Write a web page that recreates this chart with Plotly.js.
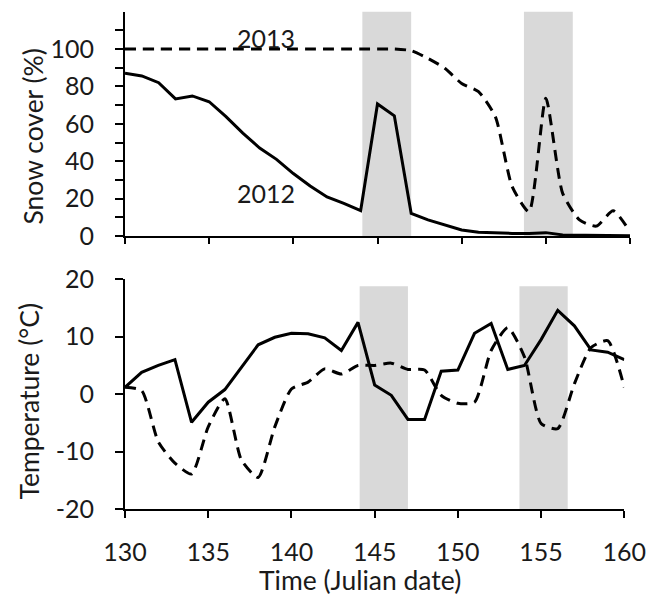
<!DOCTYPE html>
<html>
<head>
<meta charset="utf-8">
<script src="https://cdn.plot.ly/plotly-3.0.1.min.js"></script>
<style>html,body{margin:0;padding:0;background:#fff;}#chart{width:659px;height:596px;}</style>
</head>
<body>
<div id="chart"></div>
<script>
// Julian dates
const days = [130,131,132,133,134,135,136,137,138,139,140,141,142,143,144,145,146,147,148,149,150,151,152,153,154,155,156,157,158,159,160];
// Snow cover (%)
const snow2012 = [87,85.6,82,73.3,74.9,71.8,63.8,55,47,41,33.4,26.7,20.9,17.5,13.6,70.6,64.3,12.1,8.6,5.9,3.2,2,1.6,1.4,1.4,1.8,0.6,0.4,0.3,0.3,0.2];
const snow2013 = [100,100,100,100,100,100,100,100,100,100,100,100,100,100,100,100,100,99.1,95,89.7,81.6,77.2,63.8,26.4,13,73.6,22.8,8.6,5.3,13.5,2.3];
// Temperature (°C)
const temp2012 = [1.2,3.8,5.0,6.0,-4.9,-1.4,0.8,4.7,8.6,9.9,10.6,10.5,9.8,7.6,12.5,1.6,-0.2,-4.4,-4.4,4.0,4.2,10.6,12.3,4.3,5.0,9.5,14.6,11.9,7.7,7.3,6.0];
const temp2013 = [1.2,0.6,-8.3,-12.0,-13.9,-5.7,-0.8,-11.5,-14.5,-5.7,0.9,2.1,4.4,3.5,5.0,5.0,5.4,4.3,4.2,-0.2,-1.6,-1.4,7.6,11.6,6.5,-5.1,-6.0,1.8,8.1,9.3,1.2];
// Shaded periods
const shadeStart = [144.1,153.7];
const shadeEnd = [147,156.6];
// Tick labels
const snowTickVals = [0,10,20,30,40,50,60,70,80,90,100,110];
const snowTickText = ['0','','20','','40','','60','','80','','100',''];
const tempTickVals = [-20,-10,0,10,20];
const tempTickText = ['-20','-10','0','10','20'];
const xTickVals = [130,135,140,145,150,155,160];
// Titles
const snowTitle = 'Snow cover (%)';
const tempTitle = 'Temperature (°C)';
const timeTitle = 'Time (Julian date)';

const W = 659, H = 596;
const font = {family: 'Lato, "Open Sans", sans-serif', size: 25, color: '#1a1a1a'};
const titleFont = {family: 'Lato, "Open Sans", sans-serif', size: 26.5, color: '#1a1a1a'};
const solid = {color: '#000', width: 3};
const dashed = {color: '#000', width: 3, dash: '11px,7px', shape: 'spline', smoothing: 0.6};

const traces = [
  {x: days, y: snow2012, xaxis: 'x', yaxis: 'y', mode: 'lines', line: solid, hoverinfo: 'skip'},
  {x: days, y: snow2013, xaxis: 'x', yaxis: 'y', mode: 'lines', line: dashed, hoverinfo: 'skip'},
  {x: days, y: temp2012, xaxis: 'x2', yaxis: 'y2', mode: 'lines', line: solid, hoverinfo: 'skip'},
  {x: days, y: temp2013, xaxis: 'x2', yaxis: 'y2', mode: 'lines', line: dashed, hoverinfo: 'skip'}
];

const shapes = [];
for (let i = 0; i < shadeStart.length; i++) {
  shapes.push({type: 'rect', xref: 'x', yref: 'y', x0: shadeStart[i], x1: shadeEnd[i], y0: 0, y1: 120, fillcolor: '#d9d9d9', line: {width: 0}, layer: 'below'});
  shapes.push({type: 'rect', xref: 'x2', yref: 'y2', x0: shadeStart[i], x1: shadeEnd[i], y0: -20, y1: 18.8, fillcolor: '#d9d9d9', line: {width: 0}, layer: 'below'});
}

const axBase = {showgrid: false, zeroline: false, showline: true, linecolor: '#000', linewidth: 2, ticks: 'outside', tickcolor: '#000', tickwidth: 2, tickfont: font};

const layout = {
  width: W, height: H,
  margin: {l: 0, r: 0, t: 0, b: 0},
  paper_bgcolor: '#fff', plot_bgcolor: 'rgba(0,0,0,0)',
  showlegend: false,
  font: font,
  xaxis: Object.assign({}, axBase, {domain: [125/W, 630/W], range: [130,160], anchor: 'y', tickvals: xTickVals, showticklabels: false, ticklen: 6}),
  yaxis: Object.assign({}, axBase, {domain: [1-236/H, 1-11.6/H], range: [0,120], anchor: 'x', tickmode: 'array', tickvals: snowTickVals, ticktext: snowTickText, ticklen: 8, ticklabelstandoff: 16}),
  xaxis2: Object.assign({}, axBase, {domain: [125/W, 624.3/W], range: [130,160], anchor: 'y2', tickvals: xTickVals, ticklen: 7, ticklabelstandoff: 13}),
  yaxis2: Object.assign({}, axBase, {domain: [1-509/H, 1-279.3/H], range: [-20,20], anchor: 'x2', tickvals: tempTickVals, ticktext: tempTickText, ticklen: 8, ticklabelstandoff: 16}),
  shapes: shapes,
  annotations: [
    {x: 138.4, y: 105.9, xref: 'x', yref: 'y', text: '2013', showarrow: false, font: font},
    {x: 138.4, y: 23, xref: 'x', yref: 'y', text: '2012', showarrow: false, font: font},
    {x: 32/W, y: 1-136.5/H, xref: 'paper', yref: 'paper', text: snowTitle, textangle: -90, showarrow: false, font: titleFont, xanchor: 'center', yanchor: 'middle'},
    {x: 28/W, y: 1-401.5/H, xref: 'paper', yref: 'paper', text: tempTitle, textangle: -90, showarrow: false, font: titleFont, xanchor: 'center', yanchor: 'middle'},
    {x: 360/W, y: 1-580/H, xref: 'paper', yref: 'paper', text: timeTitle, showarrow: false, font: titleFont, xanchor: 'center', yanchor: 'middle'}
  ]
};

Plotly.newPlot('chart', traces, layout, {staticPlot: true, displayModeBar: false});
</script>
</body>
</html>
